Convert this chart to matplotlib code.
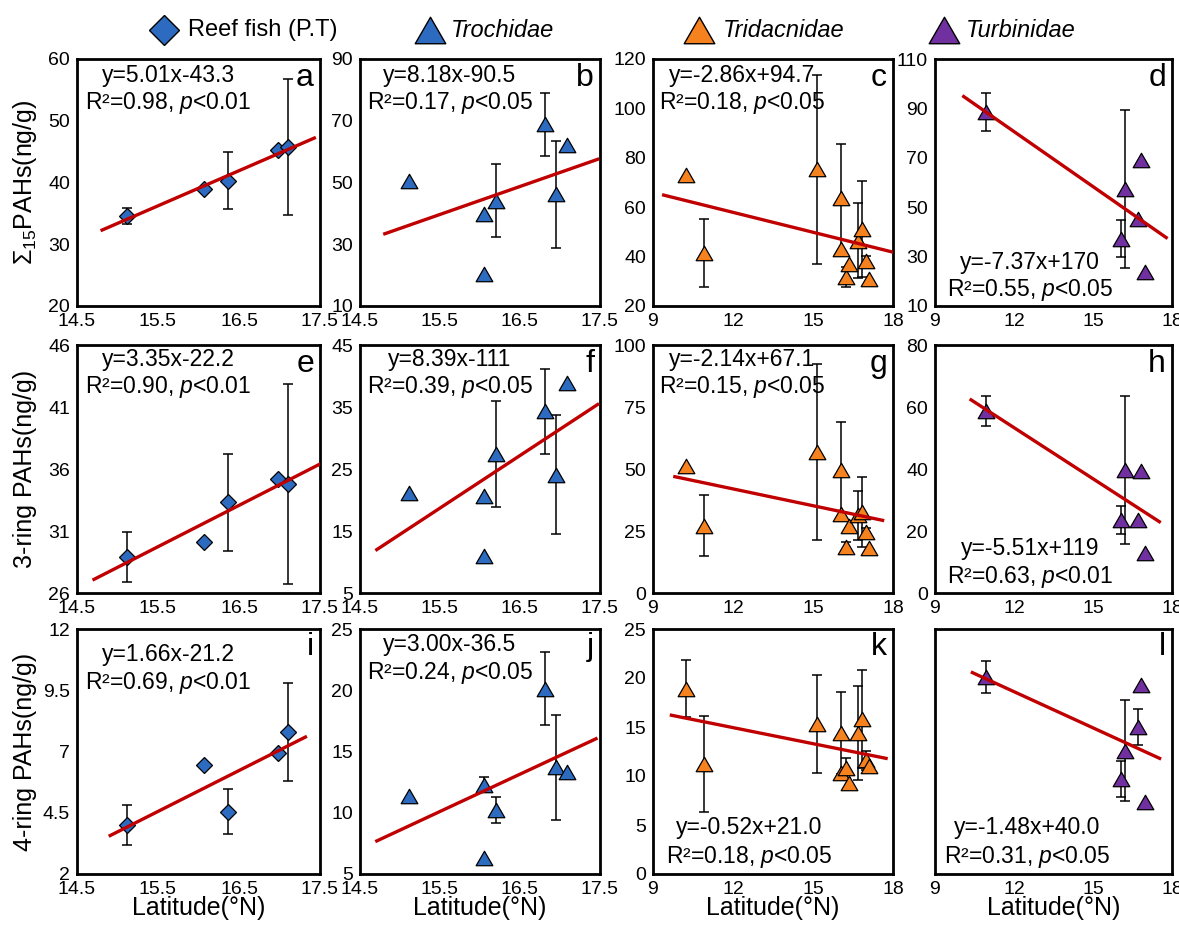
import matplotlib
matplotlib.use("Agg")
import matplotlib.pyplot as plt
from matplotlib.path import Path

plt.rcParams["font.family"] = ["Liberation Sans", "DejaVu Sans"]
plt.rcParams["mathtext.fontset"] = "custom"
plt.rcParams["mathtext.rm"] = "Liberation Sans"
plt.rcParams["mathtext.it"] = "Liberation Sans:italic"

# ---- data ----
group_names = ["Reef fish (P.T)", "Trochidae", "Tridacnidae", "Turbinidae"]

lat_fish = [15.12, 16.07, 16.36, 16.98, 17.11]
lat_troch = [15.11, 16.05, 16.05, 16.20, 16.81, 16.95, 17.09]
lat_trid = [10.25, 10.93, 15.15, 16.06, 16.06, 16.22, 16.35, 16.68, 16.84, 17.00, 17.10]
lat_turb = [10.93, 16.07, 16.22, 16.70, 16.84, 16.98]

# sum15 PAHs
a_val = [34.6, 38.9, 40.3, 45.2, 45.8]
a_err = [1.3, 0, 4.6, 0, 11.0]
b_val = [50.5, 39.8, 20.5, 44.1, 68.8, 46.2, 62.1]
b_err = [0, 0, 0, 11.8, 10.3, 17.4, 0]
c_val = [72.9, 41.3, 75.3, 63.9, 43.2, 31.8, 37.1, 46.5, 51.2, 38.2, 31.1]
c_err = [0, 13.8, 38.2, 21.7, 0, 4.0, 0, 15.0, 19.4, 2.0, 0]
d_val = [88.5, 37.3, 57.5, 45.4, 69.0, 23.9]
d_err = [7.7, 7.4, 32.0, 0, 0, 0]

# 3-ring PAHs
e_val = [28.9, 30.15, 33.3, 35.2, 34.8]
e_err = [2.0, 0, 3.9, 0, 8.05]
f_val = [21.1, 20.6, 10.95, 27.4, 34.3, 24.1, 38.95]
f_err = [0, 0, 0, 8.6, 6.9, 9.65, 0]
g_val = [51.3, 27.2, 56.7, 49.4, 32.0, 18.6, 26.9, 31.3, 32.7, 24.6, 18.0]
g_err = [0, 12.2, 35.5, 19.4, 0, 2.0, 0, 10.0, 14.0, 1.5, 0]
h_val = [58.6, 23.6, 39.6, 23.4, 39.4, 12.9]
h_err = [4.8, 4.5, 23.8, 0, 0, 0]

# 4-ring PAHs
i_val = [4.0, 6.44, 4.55, 6.92, 7.8]
i_err = [0.8, 0, 0.9, 0, 2.0]
j_val = [11.34, 12.3, 6.3, 10.2, 20.14, 13.7, 13.3]
j_err = [0, 0.6, 0, 1.05, 3.0, 4.3, 0]
k_val = [18.9, 11.2, 15.3, 14.4, 10.3, 10.8, 9.3, 14.4, 15.8, 11.6, 11.0]
k_err = [2.9, 4.9, 5.0, 4.2, 0, 1.0, 0, 4.8, 5.0, 1.0, 0]
l_val = [20.1, 9.7, 12.6, 15.0, 19.3, 7.3]
l_err = [1.6, 1.8, 5.2, 1.8, 0, 0]

# fitted lines as drawn: (x start, x end), (y start, y end)
fit_x = {"a": [14.81, 17.43], "b": [14.81, 17.47], "c": [9.4, 18.0], "d": [10.09, 17.78],
         "e": [14.71, 17.5], "f": [14.71, 17.47], "g": [9.82, 17.61], "h": [10.37, 17.52],
         "i": [14.91, 17.32], "j": [14.71, 17.45], "k": [9.69, 17.74], "l": [10.42, 17.53]}
fit_y = {"a": [32.3, 47.2], "b": [33.4, 57.5], "c": [64.9, 41.8], "d": [94.8, 37.7],
         "e": [27.1, 36.4], "f": [12.0, 35.4], "g": [46.9, 29.3], "h": [62.3, 23.0],
         "i": [3.57, 7.59], "j": [7.7, 16.04], "k": [16.2, 11.8], "l": [20.55, 11.8]}

equations = {"a": "y=5.01x-43.3", "b": "y=8.18x-90.5", "c": "y=-2.86x+94.7", "d": "y=-7.37x+170",
             "e": "y=3.35x-22.2", "f": "y=8.39x-111", "g": "y=-2.14x+67.1", "h": "y=-5.51x+119",
             "i": "y=1.66x-21.2", "j": "y=3.00x-36.5", "k": "y=-0.52x+21.0", "l": "y=-1.48x+40.0"}
r2_text = {"a": ("0.98", "0.01"), "b": ("0.17", "0.05"), "c": ("0.18", "0.05"), "d": ("0.55", "0.05"),
           "e": ("0.90", "0.01"), "f": ("0.39", "0.05"), "g": ("0.15", "0.05"), "h": ("0.63", "0.01"),
           "i": ("0.69", "0.01"), "j": ("0.24", "0.05"), "k": ("0.18", "0.05"), "l": ("0.31", "0.05")}

yticks = {"a": [20, 30, 40, 50, 60], "b": [10, 30, 50, 70, 90], "c": [20, 40, 60, 80, 100, 120],
          "d": [10, 30, 50, 70, 90, 110], "e": [26, 31, 36, 41, 46], "f": [5, 15, 25, 35, 45],
          "g": [0, 25, 50, 75, 100], "h": [0, 20, 40, 60, 80], "i": [2, 4.5, 7, 9.5, 12],
          "j": [5, 10, 15, 20, 25], "k": [0, 5, 10, 15, 20, 25], "l": [0, 5, 10, 15, 20, 25]}
xticks_narrow = [14.5, 15.5, 16.5, 17.5]
xticks_wide = [9, 12, 15, 18]

row_labels = ["Σ$_{15}$PAHs(ng/g)", "3-ring PAHs(ng/g)", "4-ring PAHs(ng/g)"]

# ---- styling ----
colors = ["#2C6BBF", "#2C6BBF", "#F5821F", "#7030A0"]
tri = Path([(-1, -0.866), (1, -0.866), (0, 0.866), (-1, -0.866)],
           [Path.MOVETO, Path.LINETO, Path.LINETO, Path.CLOSEPOLY])
markers = ["D", tri, tri, tri]
msizes = [8, 12, 12, 12]
legend_ms = [15, 22, 22, 22]
fit_color = "#C00000"

fig = plt.figure(figsize=(11.79, 9.32), dpi=100)
W, H = 1179, 932
col_px = [(77, 320), (360, 600), (653, 893), (935, 1172)]
row_px = [(59, 306), (345, 593), (629, 874)]

panels = [
    ["a", "b", "c", "d"],
    ["e", "f", "g", "h"],
    ["i", "j", "k", "l"],
]
lats = [lat_fish, lat_troch, lat_trid, lat_turb]
vals = {"a": (a_val, a_err), "b": (b_val, b_err), "c": (c_val, c_err), "d": (d_val, d_err),
        "e": (e_val, e_err), "f": (f_val, f_err), "g": (g_val, g_err), "h": (h_val, h_err),
        "i": (i_val, i_err), "j": (j_val, j_err), "k": (k_val, k_err), "l": (l_val, l_err)}

# text placement: (x centre, y line1, y line2) in axes fraction
text_pos = {"a": (0.375, 0.935, 0.82), "b": (0.375, 0.935, 0.82), "c": (0.37, 0.935, 0.82),
            "d": (0.40, 0.178, 0.065), "e": (0.375, 0.94, 0.83), "f": (0.375, 0.94, 0.83),
            "g": (0.37, 0.94, 0.83), "h": (0.40, 0.18, 0.065), "i": (0.375, 0.894, 0.78),
            "j": (0.375, 0.935, 0.82), "k": (0.40, 0.19, 0.07), "l": (0.39, 0.19, 0.07)}

for r, row in enumerate(panels):
    for c, key in enumerate(row):
        x0, x1 = col_px[c]
        y0, y1 = row_px[r]
        ax = fig.add_axes([x0 / W, 1 - y1 / H, (x1 - x0) / W, (y1 - y0) / H])
        v, e = vals[key]
        lat = lats[c]
        ex = [x for x, s in zip(lat, e) if s > 0]
        ey = [y for y, s in zip(v, e) if s > 0]
        es = [s for s in e if s > 0]
        ax.errorbar(ex, ey, yerr=es, fmt="none", ecolor="black", elinewidth=1.1,
                    capsize=3.5, capthick=1.1, zorder=2)
        ax.plot(lat, v, linestyle="none", marker=markers[c], ms=msizes[c],
                mfc=colors[c], mec="black", mew=0.9, zorder=3)
        ax.plot(fit_x[key], fit_y[key], color=fit_color, lw=2.4, zorder=4)

        ticks = yticks[key]
        ax.set_ylim(ticks[0], ticks[-1])
        ax.set_yticks(ticks)
        ax.set_yticklabels([f"{t:g}" for t in ticks])
        if key == "l":
            ax.set_yticklabels([])
        xt = xticks_narrow if c < 2 else xticks_wide
        ax.set_xlim(xt[0], xt[-1])
        ax.set_xticks(xt)
        ax.set_xticklabels([f"{t:g}" for t in xt])
        ax.tick_params(length=0, labelsize=14, pad=5)
        for sp in ax.spines.values():
            sp.set_linewidth(2.0)

        tx, ty1, ty2 = text_pos[key]
        ax.text(tx, ty1, equations[key], transform=ax.transAxes, ha="center", va="center",
                fontsize=16.5)
        rr, pp = r2_text[key]
        ax.text(tx, ty2, f"R²={rr}, $\\it{{p}}$<{pp}", transform=ax.transAxes,
                ha="center", va="center", fontsize=16.5)
        ax.text(0.975, 0.925, key, transform=ax.transAxes, ha="right", va="center",
                fontsize=23)

        if c == 0:
            ax.set_ylabel(row_labels[r], fontsize=18, va="center")
            ax.yaxis.set_label_coords(-0.215, 0.5)
        if r == 2:
            ax.set_xlabel("Latitude(°N)", fontsize=18)
            ax.xaxis.set_label_coords(0.5, -0.09)

        if r == 0:
            # legend header above each column
            leg_x = [0.36, 0.29, 0.19, 0.04][c]
            ax.plot([leg_x], [1.117], transform=ax.transAxes, clip_on=False,
                    linestyle="none", marker=markers[c], ms=legend_ms[c],
                    mfc=colors[c], mec="black", mew=1.0)
            style = "normal" if c == 0 else "italic"
            ax.text(leg_x + [0.095, 0.09, 0.10, 0.09][c], 1.117, group_names[c],
                    transform=ax.transAxes, ha="left", va="center", fontsize=17,
                    style=style)

fig.savefig("out.png", dpi=100)
